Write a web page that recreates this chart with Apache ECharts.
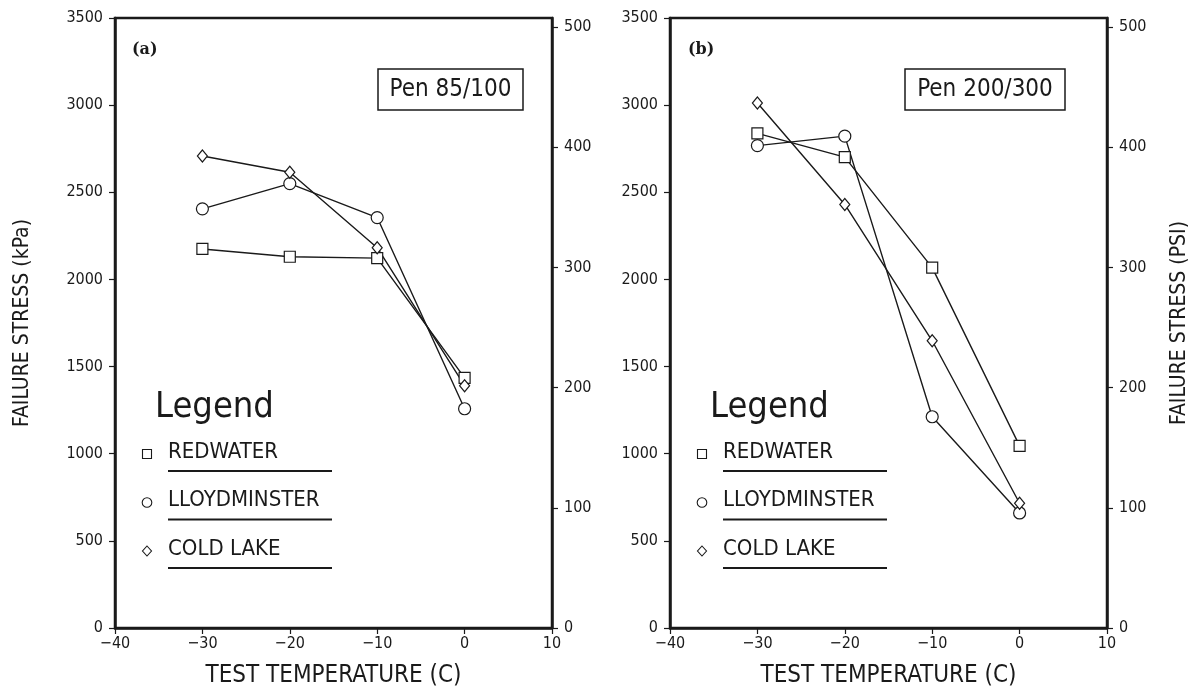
<!DOCTYPE html>
<html>
<head>
<meta charset="utf-8">
<script src="https://cdn.jsdelivr.net/npm/echarts@6/dist/echarts.min.js"></script>
<style>
  html, body { margin: 0; padding: 0; background: #fff; }
  #main { width: 1199px; height: 696px; }
</style>
</head>
<body>
<div id="main"></div>
<script>
var temps = [-30, -20, -10, 0];

// panel (a) Pen 85/100, failure stress in kPa
var redwaterA = [2175, 2130, 2122, 1435];
var lloydA = [2405, 2550, 2355, 1258];
var coldLakeA = [2708, 2615, 2182, 1390];

// panel (b) Pen 200/300
var redwaterB = [2838, 2702, 2068, 1045];
var lloydB = [2768, 2822, 1212, 660];
var coldLakeB = [3012, 2430, 1648, 716];

var kpaMax = 3500;
var kpaPerPsi = 6.894757;

var fontMain = 'DejaVu Sans Condensed, DejaVu Sans, sans-serif';
var ink = '#1a1a1a';

var chart = echarts.init(document.getElementById('main'));

function pairs(vals) {
  return temps.map(function (t, i) { return [t, vals[i]]; });
}

function makeSeries(name, vals, symbol, size, idx) {
  return {
    name: name,
    type: 'line',
    xAxisIndex: idx,
    yAxisIndex: idx * 2,
    data: pairs(vals),
    symbol: symbol,
    symbolSize: size,
    showAllSymbol: true,
    lineStyle: { color: ink, width: 1.4 },
    itemStyle: { color: '#fff', borderColor: ink, borderWidth: 1.2 },
    z: 3,
    silent: true
  };
}

function xAxisFor(idx) {
  return {
    gridIndex: idx,
    type: 'value',
    min: -40,
    max: 10,
    interval: 10,
    name: 'TEST TEMPERATURE (C)',
    nameLocation: 'middle',
    nameGap: 36,
    nameTextStyle: { fontFamily: fontMain, fontSize: 24, color: ink },
    axisLine: { show: true, onZero: false, lineStyle: { color: ink, width: 2.5 } },
    axisTick: { show: true, inside: false, length: 6, lineStyle: { color: ink, width: 1.2 } },
    axisLabel: {
      fontFamily: fontMain, fontSize: 16, color: ink, margin: 8,
      formatter: function (v) { return String(v).replace('-', '\u2212'); }
    },
    splitLine: { show: false }
  };
}

function kpaAxis(idx, showName) {
  return {
    gridIndex: idx,
    type: 'value',
    position: 'left',
    min: 0,
    max: kpaMax,
    interval: 500,
    name: showName ? 'FAILURE STRESS (kPa)' : '',
    nameLocation: 'middle',
    nameGap: 82,
    nameTextStyle: { fontFamily: fontMain, fontSize: 21, color: ink },
    axisLine: { show: true, onZero: false, lineStyle: { color: ink, width: 2.5 } },
    axisTick: { show: true, inside: false, length: 6, lineStyle: { color: ink, width: 1.2 } },
    axisLabel: {
      fontFamily: fontMain, fontSize: 16, color: ink, margin: 12,
      formatter: function (v) { return String(v); }
    },
    splitLine: { show: false }
  };
}

function psiAxis(idx, showName) {
  return {
    gridIndex: idx,
    type: 'value',
    position: 'right',
    min: 0,
    max: kpaMax / kpaPerPsi,
    interval: 100,
    name: showName ? 'FAILURE STRESS (PSI)' : '',
    nameLocation: 'middle',
    nameGap: 62,
    nameRotate: 90,
    nameTextStyle: { fontFamily: fontMain, fontSize: 21, color: ink },
    axisLine: { show: true, onZero: false, lineStyle: { color: ink, width: 2.5 } },
    axisTick: { show: true, inside: false, length: 6, lineStyle: { color: ink, width: 1.2 } },
    axisLabel: {
      fontFamily: fontMain, fontSize: 16, color: ink, margin: 12, showMaxLabel: false,
      formatter: function (v) { return String(Math.round(v)); }
    },
    splitLine: { show: false }
  };
}

// legend block drawn inside each panel
function legendBlock(x0, y0) {
  var g = [];
  g.push({ type: 'text', left: x0 + 8, top: y0, style: { text: 'Legend', fontFamily: fontMain, fontSize: 36, fontWeight: 'lighter', fill: ink } });
  var names = ['REDWATER', 'LLOYDMINSTER', 'COLD LAKE'];
  for (var i = 0; i < names.length; i++) {
    var cy = y0 + 64 + i * 48.5;
    var sx = x0;
    if (i === 0) {
      g.push({ type: 'rect', shape: { x: sx - 4.5, y: cy - 4.5, width: 9, height: 9 }, style: { fill: '#fff', stroke: ink, lineWidth: 1.1 } });
    } else if (i === 1) {
      g.push({ type: 'circle', shape: { cx: sx, cy: cy, r: 4.8 }, style: { fill: '#fff', stroke: ink, lineWidth: 1.1 } });
    } else {
      g.push({ type: 'polygon', shape: { points: [[sx, cy - 5], [sx + 4.5, cy], [sx, cy + 5], [sx - 4.5, cy]] }, style: { fill: '#fff', stroke: ink, lineWidth: 1.1 } });
    }
    g.push({ type: 'text', left: x0 + 21, top: cy - 13, style: { text: names[i], fontFamily: fontMain, fontSize: 22, fill: ink } });
    g.push({ type: 'line', shape: { x1: x0 + 21, y1: cy + 17, x2: x0 + 185, y2: cy + 17 }, style: { stroke: ink, lineWidth: 2 } });
  }
  return g;
}

function penBox(x, y, w, h, label) {
  return [
    { type: 'rect', shape: { x: x, y: y, width: w, height: h }, style: { fill: '#fff', stroke: ink, lineWidth: 1.5 }, z: 10 },
    { type: 'text', x: x + w / 2, y: y + h / 2, style: { text: label, fontFamily: fontMain, fontSize: 24, fill: ink, align: 'center', verticalAlign: 'middle' }, z: 11 }
  ];
}

var graphics = []
  .concat([{ type: 'text', left: 132, top: 42, style: { text: '(a)', fontFamily: 'DejaVu Serif, serif', fontWeight: 'bold', fontSize: 16, fill: ink } }])
  .concat([{ type: 'text', left: 688, top: 42, style: { text: '(b)', fontFamily: 'DejaVu Serif, serif', fontWeight: 'bold', fontSize: 16, fill: ink } }])
  .concat(penBox(378, 69, 145, 41, 'Pen 85/100'))
  .concat(penBox(905, 69, 160, 41, 'Pen 200/300'))
  .concat(legendBlock(147, 390))
  .concat(legendBlock(702, 390));

var option = {
  backgroundColor: '#fff',
  animation: false,
  grid: [
    { left: 115, right: 647, top: 18, bottom: 68, show: true, borderColor: ink, borderWidth: 2.5, backgroundColor: 'transparent' },
    { left: 670, right: 92, top: 18, bottom: 68, show: true, borderColor: ink, borderWidth: 2.5, backgroundColor: 'transparent' }
  ],
  xAxis: [xAxisFor(0), xAxisFor(1)],
  yAxis: [kpaAxis(0, true), psiAxis(0, false), kpaAxis(1, false), psiAxis(1, true)],
  series: [
    makeSeries('REDWATER', redwaterA, 'rect', 11, 0),
    makeSeries('LLOYDMINSTER', lloydA, 'circle', 12, 0),
    makeSeries('COLD LAKE', coldLakeA, 'diamond', [10, 12], 0),
    makeSeries('REDWATER', redwaterB, 'rect', 11, 1),
    makeSeries('LLOYDMINSTER', lloydB, 'circle', 12, 1),
    makeSeries('COLD LAKE', coldLakeB, 'diamond', [10, 12], 1)
  ],
  graphic: graphics
};

chart.setOption(option);
</script>
</body>
</html>
